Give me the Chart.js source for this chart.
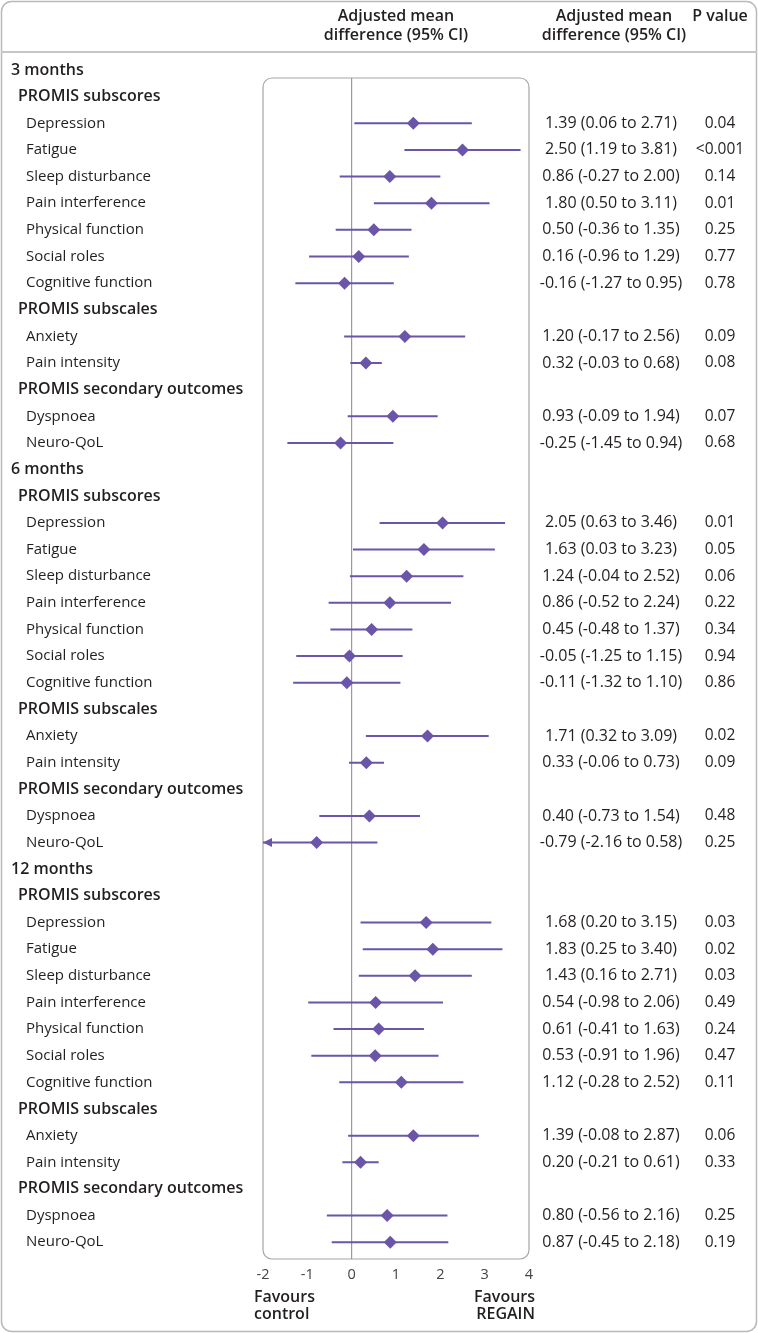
<!DOCTYPE html>
<html>
<head>
<meta charset="utf-8">
<script src="https://cdn.jsdelivr.net/npm/chart.js@4/dist/chart.umd.min.js"></script>
<style>
  html, body { margin: 0; padding: 0; background: #fff; }
  canvas { display: block; }
</style>
</head>
<body>
<canvas id="forest" width="758" height="1333"></canvas>
<script>
// row structure
const timepoints = ['3 months', '6 months', '12 months'];
const groupNames = ['PROMIS subscores', 'PROMIS subscales', 'PROMIS secondary outcomes'];
const groupItems = [
    ['Depression', 'Fatigue', 'Sleep disturbance', 'Pain interference', 'Physical function', 'Social roles', 'Cognitive function'],
    ['Anxiety', 'Pain intensity'],
    ['Dyspnoea', 'Neuro-QoL']
];

// adjusted mean differences, one array per timepoint (same order as items above)
const mean3m = [1.39, 2.50, 0.86, 1.80, 0.50, 0.16, -0.16, 1.20, 0.32, 0.93, -0.25];
const lower3m = [0.06, 1.19, -0.27, 0.50, -0.36, -0.96, -1.27, -0.17, -0.03, -0.09, -1.45];
const upper3m = [2.71, 3.81, 2.00, 3.11, 1.35, 1.29, 0.95, 2.56, 0.68, 1.94, 0.94];
const pval3m = ['0.04', '<0.001', '0.14', '0.01', '0.25', '0.77', '0.78', '0.09', '0.08', '0.07', '0.68'];

const mean6m = [2.05, 1.63, 1.24, 0.86, 0.45, -0.05, -0.11, 1.71, 0.33, 0.40, -0.79];
const lower6m = [0.63, 0.03, -0.04, -0.52, -0.48, -1.25, -1.32, 0.32, -0.06, -0.73, -2.16];
const upper6m = [3.46, 3.23, 2.52, 2.24, 1.37, 1.15, 1.10, 3.09, 0.73, 1.54, 0.58];
const pval6m = ['0.01', '0.05', '0.06', '0.22', '0.34', '0.94', '0.86', '0.02', '0.09', '0.48', '0.25'];

const mean12m = [1.68, 1.83, 1.43, 0.54, 0.61, 0.53, 1.12, 1.39, 0.20, 0.80, 0.87];
const lower12m = [0.20, 0.25, 0.16, -0.98, -0.41, -0.91, -0.28, -0.08, -0.21, -0.56, -0.45];
const upper12m = [3.15, 3.40, 2.71, 2.06, 1.63, 1.96, 2.52, 2.87, 0.61, 2.16, 2.18];
const pval12m = ['0.03', '0.02', '0.03', '0.49', '0.24', '0.47', '0.11', '0.06', '0.33', '0.25', '0.19'];

const xTicks = [-2, -1, 0, 1, 2, 3, 4];

const PURPLE = '#6a55a9';
const TEXT = '#231f20';
const FONT = '"Open Sans", "Noto Sans", sans-serif';

const means = [mean3m, mean6m, mean12m];
const lowers = [lower3m, lower6m, lower12m];
const uppers = [upper3m, upper6m, upper12m];
const pvals = [pval3m, pval6m, pval12m];

// flatten into rows: level 0 = timepoint, 1 = group, 2 = outcome
const rows = [];
timepoints.forEach((tp, t) => {
    rows.push({ label: tp, level: 0 });
    let k = 0;
    groupNames.forEach((g, gi) => {
        rows.push({ label: g, level: 1 });
        groupItems[gi].forEach((item) => {
            rows.push({
                label: item, level: 2,
                mean: means[t][k], lo: lowers[t][k], hi: uppers[t][k], p: pvals[t][k]
            });
            k++;
        });
    });
});

const pointData = [];
const ciData = [];
rows.forEach((r, i) => {
    if (r.level !== 2) return;
    pointData.push({ x: r.mean, y: i });
    ciData.push({ x: r.lo, y: i }, { x: r.hi, y: i }, { x: null, y: null });
});

const fmt = (v) => v.toFixed(2);

const forestText = {
    id: 'forestText',
    beforeDraw(chart) {
        const { ctx, chartArea: a } = chart;
        ctx.save();
        ctx.fillStyle = '#fff';
        ctx.fillRect(0, 0, chart.width, chart.height);
        // outer frame
        ctx.strokeStyle = '#b9b9b9';
        ctx.lineWidth = 1.5;
        ctx.beginPath();
        ctx.roundRect(1.5, 1.5, chart.width - 3, chart.height - 3, 10);
        ctx.stroke();
        // header rule
        ctx.strokeStyle = '#c6c6c6';
        ctx.lineWidth = 2;
        ctx.beginPath();
        ctx.moveTo(1, 52);
        ctx.lineTo(chart.width - 1, 52);
        ctx.stroke();
        // plot box
        ctx.strokeStyle = '#a6a6a6';
        ctx.lineWidth = 1.2;
        ctx.beginPath();
        ctx.roundRect(a.left, a.top, a.right - a.left, a.bottom - a.top, 9);
        ctx.stroke();
        ctx.restore();
    },
    afterDraw(chart) {
        const { ctx } = chart;
        const xs = chart.scales.x;
        const ys = chart.scales.y;
        ctx.save();
        ctx.fillStyle = TEXT;
        ctx.textBaseline = 'middle';

        // headers
        ctx.font = '600 16px ' + FONT;
        ctx.textAlign = 'center';
        ctx.fillText('Adjusted mean', 396, 16);
        ctx.fillText('difference (95% CI)', 396, 35);
        ctx.fillText('Adjusted mean', 614, 16);
        ctx.fillText('difference (95% CI)', 614, 35);
        ctx.fillText('P value', 720, 16);

        rows.forEach((r, i) => {
            const y = ys.getPixelForValue(i);
            ctx.textAlign = 'left';
            if (r.level === 0) {
                ctx.font = '600 16px ' + FONT;
                ctx.fillText(r.label, 11, y);
            } else if (r.level === 1) {
                ctx.font = '600 16px ' + FONT;
                ctx.fillText(r.label, 18, y);
            } else {
                ctx.font = '15px ' + FONT;
                ctx.fillText(r.label, 26, y);
                ctx.textAlign = 'center';
                ctx.font = '16px ' + FONT;
                ctx.fillText(fmt(r.mean) + ' (' + fmt(r.lo) + ' to ' + fmt(r.hi) + ')', 611, y);
                ctx.font = '15.5px ' + FONT;
                ctx.fillText(r.p, 720, y);
                // arrow where the interval runs off the axis
                if (r.lo < xs.min) {
                    const x0 = xs.getPixelForValue(xs.min);
                    ctx.fillStyle = PURPLE;
                    ctx.beginPath();
                    ctx.moveTo(x0, y);
                    ctx.lineTo(x0 + 9, y - 4.5);
                    ctx.lineTo(x0 + 9, y + 4.5);
                    ctx.closePath();
                    ctx.fill();
                    ctx.fillStyle = TEXT;
                }
            }
        });

        // favours labels
        ctx.font = '600 16px ' + FONT;
        ctx.textAlign = 'left';
        ctx.fillText('Favours', 254, 1297);
        ctx.fillText('control', 254, 1314);
        ctx.textAlign = 'right';
        ctx.fillText('Favours', 535, 1297);
        ctx.fillText('REGAIN', 535, 1314);
        ctx.restore();
    }
};

new Chart(document.getElementById('forest'), {
    type: 'scatter',
    data: {
        datasets: [
            {
                label: 'Adjusted mean difference',
                data: pointData,
                pointStyle: 'rectRot',
                pointRadius: 6.5,
                backgroundColor: PURPLE,
                borderColor: PURPLE,
                borderWidth: 0
            },
            {
                label: '95% CI',
                data: ciData,
                showLine: true,
                spanGaps: false,
                pointRadius: 0,
                borderColor: PURPLE,
                borderWidth: 2
            }
        ]
    },
    options: {
        responsive: false,
        animation: false,
        devicePixelRatio: 1,
        layout: { padding: { left: 263, right: 229, top: 78, bottom: 44 } },
        plugins: { legend: { display: false }, tooltip: { enabled: false } },
        scales: {
            x: {
                type: 'linear',
                min: -2,
                max: 4,
                afterBuildTicks: (axis) => { axis.ticks = xTicks.map((v) => ({ value: v })); },
                afterFit: (axis) => { axis.height = 30; },
                ticks: { color: '#444', font: { family: FONT, size: 14.5 }, padding: 7 },
                grid: {
                    color: (c) => (c.tick && c.tick.value === 0 ? '#9a9a9a' : 'rgba(0,0,0,0)'),
                    lineWidth: 1.2,
                    drawTicks: false
                },
                border: { display: false }
            },
            y: {
                type: 'linear',
                reverse: true,
                min: 0.3,
                max: 44.63,
                display: false
            }
        }
    },
    plugins: [forestText]
});
</script>
</body>
</html>
